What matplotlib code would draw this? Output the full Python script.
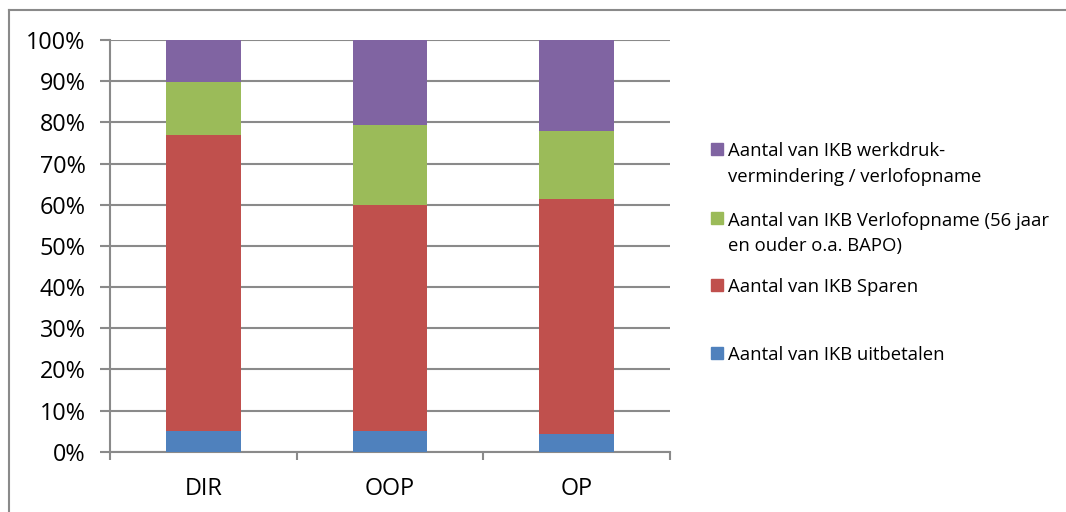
import matplotlib
matplotlib.use("Agg")
import matplotlib.pyplot as plt
import numpy as np
from matplotlib.lines import Line2D
from matplotlib.patches import Rectangle

plt.rcParams['font.family'] = ['Open Sans', 'DejaVu Sans']

categories = ["DIR", "OOP", "OP"]
series_names = [
    "Aantal van IKB uitbetalen",
    "Aantal van IKB Sparen",
    "Aantal van IKB Verlofopname (56 jaar\nen ouder o.a. BAPO)",
    "Aantal van IKB werkdruk-\nvermindering / verlofopname",
]
uitbetalen = [5.0, 5.0, 4.4]
sparen = [72.0, 55.0, 57.1]
verlofopname = [12.8, 19.4, 16.5]
werkdruk = [10.2, 20.6, 22.0]
colors = ["#4F81BD", "#C0504D", "#9BBB59", "#8064A2"]
ytick_vals = [0, 10, 20, 30, 40, 50, 60, 70, 80, 90, 100]

W, H = 1066, 512
fig = plt.figure(figsize=(W / 100, H / 100), dpi=100)
ax = fig.add_axes([110 / W, 1 - 451.7 / H, (670 - 110) / W, (451.7 - 40) / H])

data = np.array([uitbetalen, sparen, verlofopname, werkdruk], dtype=float)
totals = data.sum(axis=0)
shares = data / totals * 100
x = np.arange(len(categories))
bottom = np.zeros(len(categories))
for vals, col in zip(shares, colors):
    ax.bar(x, vals, width=0.4, bottom=bottom, color=col, zorder=3, linewidth=0)
    bottom += vals

ax.set_xlim(-0.5, len(categories) - 0.5)
ax.set_ylim(0, 100)
ax.set_yticks(ytick_vals)
ax.set_yticklabels([f"{v}%" for v in ytick_vals])
ax.set_xticks(x)
ax.set_xticklabels(categories)
ax.set_xticks(np.arange(len(categories) + 1) - 0.5, minor=True)

gray = "#8a8a8a"
ax.grid(axis='y', color=gray, linewidth=1.5, zorder=0)
ax.set_axisbelow(True)
for s in ['top', 'right']:
    ax.spines[s].set_visible(False)
for s in ['left', 'bottom']:
    ax.spines[s].set_color(gray)
    ax.spines[s].set_linewidth(1.5)
ax.tick_params(axis='y', length=7, width=1.5, color=gray, pad=10.5, labelsize=16.8)
ax.tick_params(axis='x', which='major', length=0, pad=18, labelsize=16.8)
ax.tick_params(axis='x', which='minor', length=6, width=1.5, color=gray)

# legend drawn manually (Excel-style alignment)
fs = 13.3
sq = 12
centers = [352.7, 285.0, 218.0, 149.0]  # px from top, per series
for name, col, cy in zip(series_names, colors, centers):
    fig.patches.append(Rectangle(((711) / W, 1 - (cy + sq / 2) / H), sq / W, sq / H,
                                 transform=fig.transFigure, color=col, figure=fig))
    for i, line in enumerate(name.split("\n")):
        base = cy + 7.5 + i * 26
        fig.text(728 / W, 1 - base / H, line, fontsize=fs, ha='left', va='baseline')

# outer frame
fig.add_artist(Line2D([8.5 / W, 1], [1 - 10 / H, 1 - 10 / H], transform=fig.transFigure,
                      color=gray, linewidth=1.5))
fig.add_artist(Line2D([8.5 / W, 8.5 / W], [0, 1 - 10 / H], transform=fig.transFigure,
                      color=gray, linewidth=1.5))

fig.savefig("out.png", dpi=100)
